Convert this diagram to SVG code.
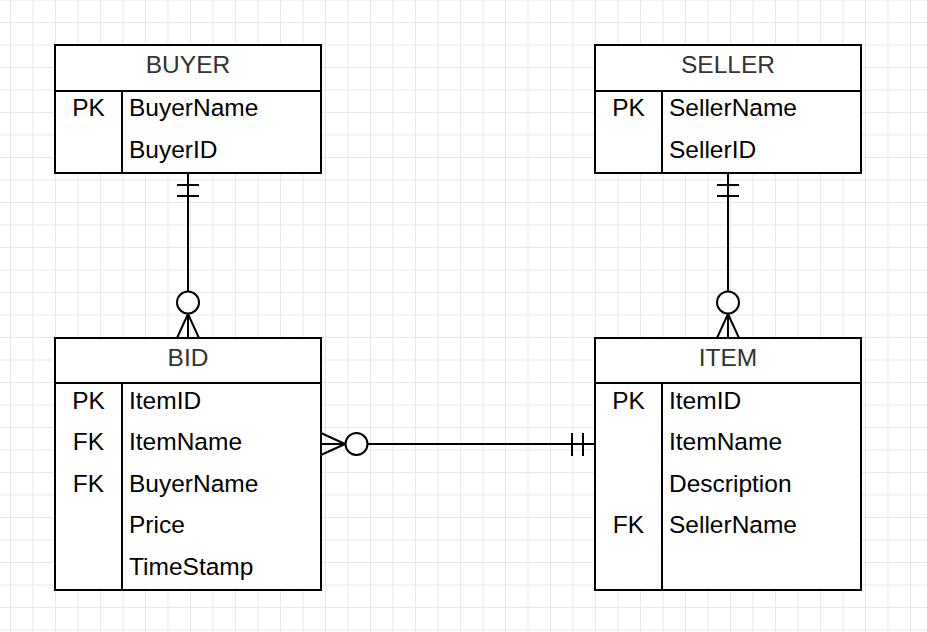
<svg xmlns="http://www.w3.org/2000/svg" width="927" height="632" viewBox="0 0 927 632">
<defs>
<pattern id="grid" patternUnits="userSpaceOnUse" x="10" y="22" width="22.5" height="22.5">
<path d="M0.5 0 V22.5 M0 0.5 H22.5" fill="none" stroke="#e8e8e8" stroke-width="1"/>
</pattern>
<style>
.box{fill:#fff;stroke:#000;stroke-width:2}
.ln{fill:none;stroke:#000;stroke-width:2}
.hd{font-family:"Liberation Sans",Arial,sans-serif;font-size:24.5px;fill:#333;text-anchor:middle}
.k{font-family:"Liberation Sans",Arial,sans-serif;font-size:24.5px;fill:#000;text-anchor:middle}
.f{font-family:"Liberation Sans",Arial,sans-serif;font-size:24.5px;fill:#000}
.circ{fill:#fff;stroke:#000;stroke-width:2}
</style>
</defs>
<rect width="927" height="632" fill="#fff"/>
<rect width="927" height="632" fill="url(#grid)"/>

<g id="connectors">
<!-- BUYER - BID -->
<path class="ln" d="M188 173 V338 M177 185 H199 M177 196 H199 M188 314 L177 338 M188 314 L199 338"/>
<circle class="circ" cx="188" cy="302.5" r="11"/>
<!-- SELLER - ITEM -->
<path class="ln" d="M728 173 V338 M717 185 H739 M717 196 H739 M728 314 L717 338 M728 314 L739 338"/>
<circle class="circ" cx="728" cy="302.5" r="11"/>
<!-- BID - ITEM -->
<path class="ln" d="M321 444 H595 M572 433 V456 M583 433 V456 M345 444 L321 433 M345 444 L321 455"/>
<circle class="circ" cx="356.5" cy="444" r="11"/>
</g>

<g id="buyer">
<rect class="box" x="55" y="45" width="266" height="128"/>
<path class="ln" d="M55 91 H321 M122 91 V173"/>
<text class="hd" x="188" y="73">BUYER</text>
<text class="k" x="88.5" y="116">PK</text>
<text class="f" x="129" y="116">BuyerName</text>
<text class="f" x="129" y="158">BuyerID</text>
</g>

<g id="seller">
<rect class="box" x="595" y="45" width="266" height="128"/>
<path class="ln" d="M595 91 H861 M662 91 V173"/>
<text class="hd" x="728" y="73">SELLER</text>
<text class="k" x="628.5" y="116">PK</text>
<text class="f" x="669" y="116">SellerName</text>
<text class="f" x="669" y="158">SellerID</text>
</g>

<g id="bid">
<rect class="box" x="55" y="338" width="266" height="252"/>
<path class="ln" d="M55 383 H321 M122 383 V590"/>
<text class="hd" x="188" y="366">BID</text>
<text class="k" x="88.5" y="409">PK</text>
<text class="f" x="129" y="409">ItemID</text>
<text class="k" x="88.5" y="450">FK</text>
<text class="f" x="129" y="450">ItemName</text>
<text class="k" x="88.5" y="492">FK</text>
<text class="f" x="129" y="492">BuyerName</text>
<text class="f" x="129" y="533">Price</text>
<text class="f" x="129" y="575">TimeStamp</text>
</g>

<g id="item">
<rect class="box" x="595" y="338" width="266" height="252"/>
<path class="ln" d="M595 383 H861 M662 383 V590"/>
<text class="hd" x="728" y="366">ITEM</text>
<text class="k" x="628.5" y="409">PK</text>
<text class="f" x="669" y="409">ItemID</text>
<text class="f" x="669" y="450">ItemName</text>
<text class="f" x="669" y="492">Description</text>
<text class="k" x="628.5" y="533">FK</text>
<text class="f" x="669" y="533">SellerName</text>
</g>
</svg>
